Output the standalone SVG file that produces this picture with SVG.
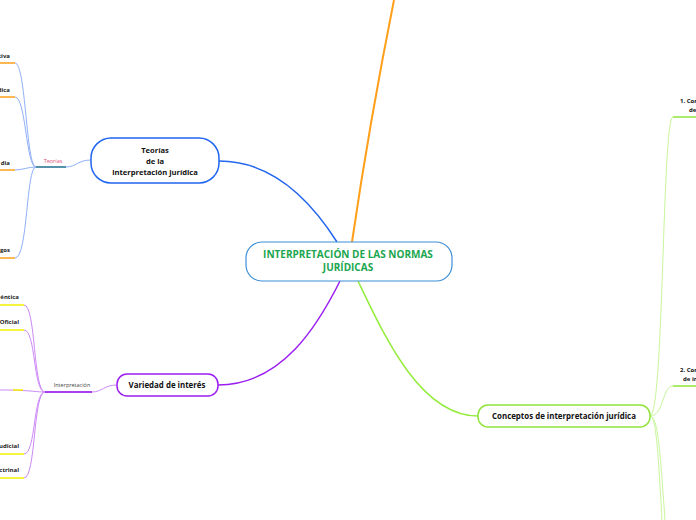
<svg xmlns="http://www.w3.org/2000/svg" width="696" height="520" viewBox="0 0 696 520">
<style>
text{font-family:"Open Sans","Noto Sans","Liberation Sans",sans-serif;}
.b{font-weight:bold;fill:#111;}
.leaf{font-size:6px;font-weight:bold;fill:#222;text-anchor:end;}
.lblue{fill:none;stroke:#8fb0f7;stroke-width:1;}
.lpur{fill:none;stroke:#cc88f7;stroke-width:1;}
.lgrn{fill:none;stroke:#c8f59a;stroke-width:1;}
.uo{stroke:#ff9f1a;stroke-width:1.5;}
.uy{stroke:#f2f200;stroke-width:1.5;}
.ug{stroke:#90e63c;stroke-width:1.5;}
</style>
<rect width="696" height="520" fill="#fff"/>
<g id="connectors">
<path d="M352,242 C364,160 378,80 394,0" fill="none" stroke="#ff9f1a" stroke-width="2"/>
<path d="M219,161 C280,161 318,212 337,242" fill="none" stroke="#2166f0" stroke-width="1.5"/>
<path d="M340,281 C318,325 282,385 218,385" fill="none" stroke="#9b1ef0" stroke-width="1.5"/>
<path d="M358,281 C384,335 420,416 478,416" fill="none" stroke="#94ec3a" stroke-width="1.5"/>
<path d="M91,160 C78,160 76,167 66,167" fill="none" stroke="#8fb0f7" stroke-width="1"/>
<line x1="36" y1="167" x2="66" y2="167" stroke="#1c6e8c" stroke-width="1.5"/>
<path class="lblue" d="M36,167 C26,167 26,63 15,63"/>
<path class="lblue" d="M36,167 C26,167 26,97 15,97"/>
<path class="lblue" d="M36,167 C28,167 22,170 15,170"/>
<path class="lblue" d="M36,167 C26,167 28,258 15,258"/>
<line class="uo" x1="0" y1="63" x2="15" y2="63"/>
<line class="uo" x1="0" y1="97" x2="15" y2="97"/>
<line class="uo" x1="0" y1="170" x2="15" y2="170"/>
<line class="uo" x1="0" y1="258" x2="15" y2="258"/>
<path d="M117,385 C104,385 102,392 92,392" fill="none" stroke="#cc88f7" stroke-width="1"/>
<line x1="45" y1="392" x2="92" y2="392" stroke="#8a00e6" stroke-width="1.5"/>
<path class="lpur" d="M45,392 C33,392 36,305 24,305"/>
<path class="lpur" d="M45,392 C33,392 36,330 24,330"/>
<path class="lpur" d="M45,392 C35,392 30,390 0,390"/>
<path class="lpur" d="M45,392 C33,392 36,454 24,454"/>
<path class="lpur" d="M45,392 C33,392 36,478 24,478"/>
<line class="uy" x1="0" y1="305" x2="24" y2="305"/>
<line class="uy" x1="0" y1="330" x2="24" y2="330"/>
<line class="uy" x1="13" y1="390" x2="23" y2="390"/>
<line class="uy" x1="0" y1="454" x2="24" y2="454"/>
<line class="uy" x1="0" y1="478" x2="24" y2="478"/>
<path class="lgrn" d="M650,416 C664,416 662,117 673,117"/>
<path class="lgrn" d="M650,416 C664,416 662,386 673,386"/>
<path class="lgrn" d="M650,416 C656,416 658,450 662,520"/>
<path class="lgrn" d="M650,416 C658,416 660,450 665,520"/>
<line class="ug" x1="673" y1="117" x2="696" y2="117"/>
<line class="ug" x1="673" y1="386" x2="696" y2="386"/>
</g>
<g id="central">
<rect x="246" y="242" width="206" height="39" rx="16" fill="#fff" stroke="#3d8fd6" stroke-width="1.2"/>
<text x="348" y="258" font-size="10" font-weight="bold" fill="#1aa64e" text-anchor="middle">INTERPRETACIÓN DE LAS NORMAS</text>
<text x="348" y="271" font-size="10" font-weight="bold" fill="#1aa64e" text-anchor="middle">JURÍDICAS</text>
</g>
<g id="teorias">
<rect x="91" y="138" width="128" height="45" rx="20" fill="#fff" stroke="#2166f0" stroke-width="1.5"/>
<text class="b" x="155" y="153" font-size="7.6" text-anchor="middle">Teorías</text>
<text class="b" x="155" y="164" font-size="7.6" text-anchor="middle">de la</text>
<text class="b" x="155" y="175" font-size="7.6" text-anchor="middle">interpretación jurídica</text>
</g>
<g id="teorias-label"><text x="53" y="163" font-size="5.5" fill="#e0507a" text-anchor="middle">Teorías</text></g>
<g id="leaf-t1"><text class="leaf" x="10" y="58">tiva</text></g>
<g id="leaf-t2"><text class="leaf" x="10" y="92">dica</text></g>
<g id="leaf-t3"><text class="leaf" x="10" y="165">dia</text></g>
<g id="leaf-t4"><text class="leaf" x="10" y="252">gos</text></g>
<g id="variedad">
<rect x="117" y="374" width="101" height="22" rx="10" fill="#fff" stroke="#9b1ef0" stroke-width="1.5"/>
<text class="b" x="167" y="388" font-size="7.9" text-anchor="middle">Variedad de interés</text>
</g>
<g id="interp-label"><text x="72" y="387" font-size="5.5" fill="#444" text-anchor="middle">Interpretación</text></g>
<g id="leaf-v1"><text class="leaf" x="19" y="299">éntica</text></g>
<g id="leaf-v2"><text class="leaf" x="19" y="324">Oficial</text></g>
<g id="leaf-v3"><text class="leaf" x="19" y="448">udicial</text></g>
<g id="leaf-v4"><text class="leaf" x="19" y="472">ctrinal</text></g>
<g id="conceptos">
<rect x="478" y="405" width="172" height="22" rx="10" fill="#fff" stroke="#8fe33a" stroke-width="1.5"/>
<text class="b" x="564" y="419" font-size="7.9" text-anchor="middle">Conceptos de interpretación jurídica</text>
</g>
<g id="c1"><text class="b" x="680" y="103" font-size="6">1. Con</text><text class="b" x="689" y="112" font-size="6">de</text></g>
<g id="c2"><text class="b" x="680" y="372" font-size="6">2. Con</text><text class="b" x="683" y="381" font-size="6">de in</text></g>
</svg>
